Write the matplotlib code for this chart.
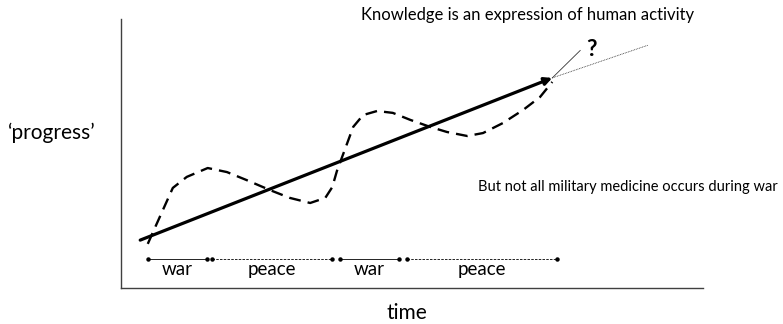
import matplotlib.pyplot as plt

# progress trend (solid arrow) and its possible continuations
TREND_START = (3.3, 17.8)
TREND_END = (74.1, 78.1)
EXTENSION_END = (90.6, 90.3)
BRANCH_END = (78.9, 88.3)

curve_time = [4.6, 5.5, 7.2, 8.9, 11.3, 14.9, 18.2, 21.6, 25.6, 29.0, 32.5, 35.1,
              36.3, 37.1, 38.3, 39.9, 41.6, 44.0, 46.7, 49.7, 53.1, 56.0, 59.5,
              62.2, 65.6, 69.1, 72.0, 74.1]
curve_progress = [16.4, 20.8, 29.0, 37.2, 41.3, 44.6, 43.1, 40.1, 36.4, 33.5, 31.6,
                  33.5, 37.5, 43.5, 50.5, 59.9, 64.3, 65.8, 65.1, 62.5, 59.9, 58.0,
                  56.5, 57.6, 61.3, 66.2, 71.0, 76.6]

# war / peace periods along the time axis
period_labels = ['war', 'peace', 'war', 'peace']
period_start = [4.6, 15.6, 37.6, 49.1]
period_end = [14.8, 36.3, 47.8, 74.9]
PERIOD_LEVEL = 10.8

FONT = 'Lato'
W, H = 783, 324

fig = plt.figure(figsize=(W / 100, H / 100), dpi=100)
ax = fig.add_axes([121 / W, (H - 288) / H, 582 / W, 269 / H])
ax.set_xlim(0, 100)
ax.set_ylim(0, 100)
ax.set_xticks([])
ax.set_yticks([])
for side in ['top', 'right']:
    ax.spines[side].set_visible(False)
for side in ['left', 'bottom']:
    ax.spines[side].set_color('#404040')
    ax.spines[side].set_linewidth(1.0)

ax.plot(curve_time, curve_progress, color='black', lw=1.7,
        linestyle=(0, (5, 3)), zorder=2)

ax.annotate('', xy=TREND_END, xytext=TREND_START,
            arrowprops=dict(arrowstyle='-|>', lw=2.3, color='black',
                            mutation_scale=11, shrinkA=0, shrinkB=0),
            zorder=3)
ax.plot([TREND_END[0], EXTENSION_END[0]], [TREND_END[1], EXTENSION_END[1]],
        color='#333333', lw=0.6, linestyle=(0, (1, 1)))
ax.plot([TREND_END[0], BRANCH_END[0]], [TREND_END[1], BRANCH_END[1]],
        color='#333333', lw=0.6)
ax.text(BRANCH_END[0] + 1.9, BRANCH_END[1] + 0.5, '?', fontsize=16.5,
        fontweight='bold', family=FONT, ha='center', va='center')

for label, s, e in zip(period_labels, period_start, period_end):
    style = '-' if label == 'war' else (0, (3, 1.5))
    ax.plot([s, e], [PERIOD_LEVEL, PERIOD_LEVEL], color='black', lw=0.6,
            linestyle=style)
    ax.plot([s, e], [PERIOD_LEVEL, PERIOD_LEVEL], 'o', color='black',
            markersize=2.2, linestyle='none')
    ax.text((s + e) / 2, PERIOD_LEVEL - 4, label, fontsize=13.5, family=FONT,
            ha='center', va='center')

fig.text(528 / W, 1 - 15 / H, 'Knowledge is an expression of human activity',
         fontsize=12, family=FONT, ha='center', va='center')
fig.text(628 / W, 1 - 187 / H, 'But not all military medicine occurs during war',
         fontsize=10.5, family=FONT, ha='center', va='center')
fig.text(52 / W, 1 - 133 / H, '\u2018progress\u2019', fontsize=15,
         family=FONT, ha='center', va='center')
fig.text(407 / W, 1 - 313 / H, 'time', fontsize=15, family=FONT,
         ha='center', va='center')

fig.savefig('out.png', dpi=100)
